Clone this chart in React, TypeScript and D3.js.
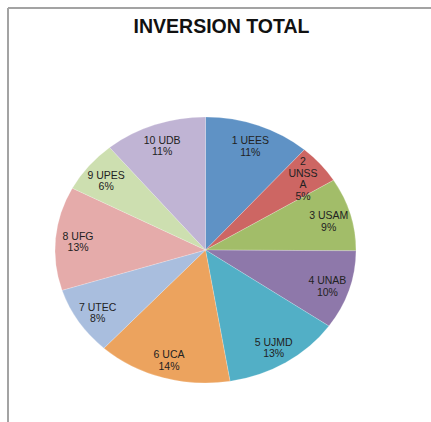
import React from "react";
import * as d3 from "d3";

const categories = ["1 UEES", "2 UNSSA", "3 USAM", "4 UNAB", "5 UJMD", "6 UCA", "7 UTEC", "8 UFG", "9 UPES", "10 UDB"];
const values = [11.4, 4.8, 8.9, 9.6, 12.7, 14.4, 8.3, 12.6, 6.3, 11.0];
const colors = ["#5f92c5", "#cd6663", "#a2bd69", "#8e78aa", "#52afc6", "#eca35e", "#a9bede", "#e5abaa", "#cddfb0", "#c0b4d4"];
const labelWraps: Record<string, string[]> = { "2 UNSSA": ["2", "UNSS", "A"] };
const title = "INVERSION TOTAL";

export default function App() {
  const W = 431, H = 422;
  const cx = 205.5, cy = 250, rx = 150.5, ry = 133;
  const total = d3.sum(values);
  const pie = d3.pie<number>().sort(null).value((d) => d)(values);
  const arc = d3.arc<d3.PieArcDatum<number>>().innerRadius(0).outerRadius(1);
  const fmt = d3.format(".0%");
  const labelR = 0.85;
  return (
    <svg width={W} height={H} style={{ position: "absolute", left: 0, top: 0 }} fontFamily="Arial, 'Liberation Sans', sans-serif">
      <rect x={0} y={0} width={W} height={H} fill="#fff" />
      <line x1={8} y1={8} x2={W} y2={8} stroke="#a3a3a3" strokeWidth={2} />
      <line x1={8} y1={8} x2={8} y2={H} stroke="#a3a3a3" strokeWidth={2} />
      <text x={221.5} y={33} textAnchor="middle" fontSize={19.5} fontWeight="bold" fill="#111">{title}</text>
      <g transform={`translate(${cx},${cy}) scale(${rx},${ry})`}>
        {pie.map((p, i) => (
          <path key={i} d={arc(p) || ""} fill={colors[i]} stroke="#ffffff" strokeOpacity={0.35} strokeWidth={0.004} />
        ))}
      </g>
      {pie.map((p, i) => {
        const a = (p.startAngle + p.endAngle) / 2;
        const x = cx + Math.sin(a) * rx * labelR;
        const y = cy - Math.cos(a) * ry * labelR + 2;
        const lines = [...(labelWraps[categories[i]] || [categories[i]]), fmt(values[i] / total)];
        const lh = 11.5;
        const y0 = y - ((lines.length - 1) * lh) / 2;
        return (
          <text key={i} textAnchor="middle" fontSize={10.5} fill="#222">
            {lines.map((l, j) => (
              <tspan key={j} x={x} y={y0 + j * lh} dy="0.35em">{l}</tspan>
            ))}
          </text>
        );
      })}
    </svg>
  );
}
